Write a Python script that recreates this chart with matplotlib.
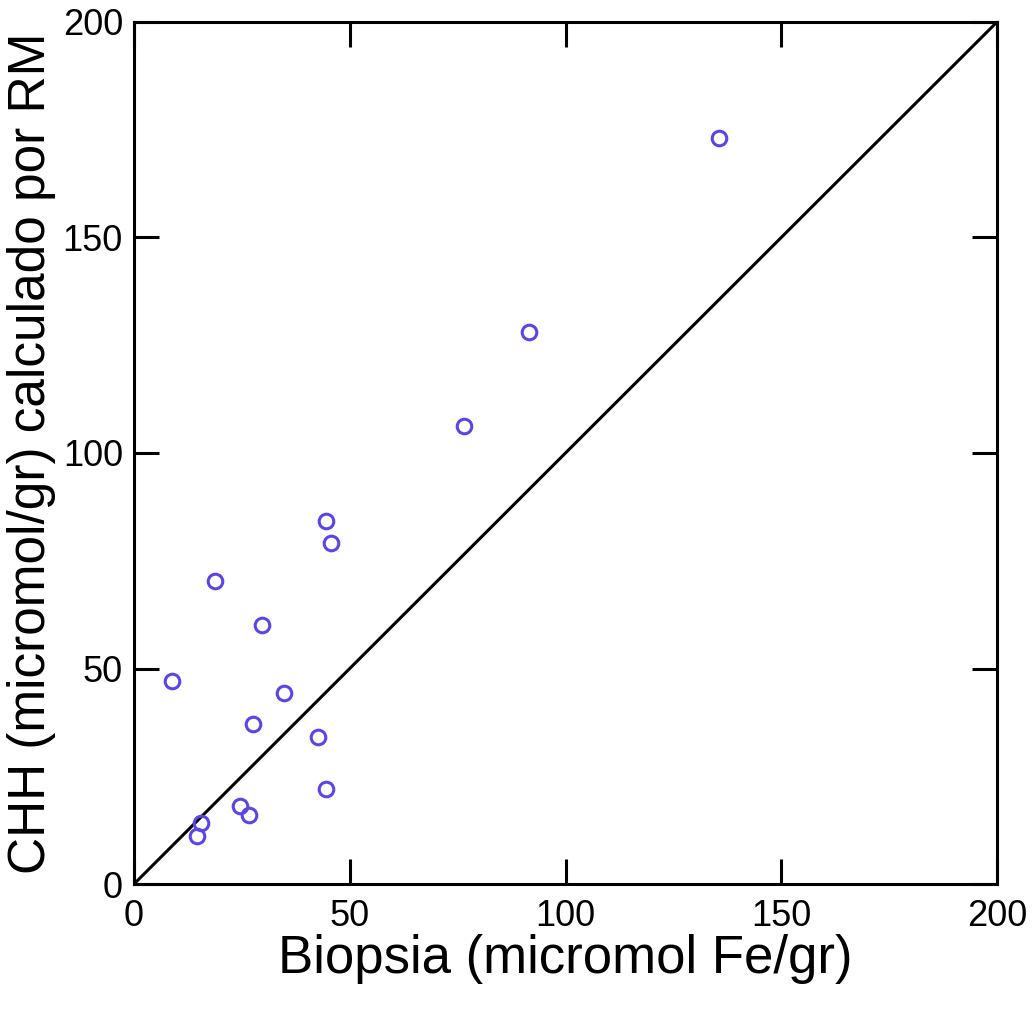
import matplotlib
matplotlib.use("Agg")
import matplotlib.pyplot as plt
import numpy as np

plt.rcParams['font.family'] = ['Liberation Sans', 'DejaVu Sans']

# biopsy vs MRI-estimated hepatic iron
biopsia = [135.6, 91.5, 76.5, 44.5, 45.7, 18.8, 29.7, 8.8, 34.8, 27.6,
           42.6, 44.5, 24.6, 26.7, 15.5, 14.6]
chh_rm = [173.1, 128.1, 106.3, 84.2, 79.1, 70.3, 60.1, 47.1, 44.3, 37.1,
          34.1, 22.0, 18.1, 16.0, 14.2, 11.1]
ticks = [0, 50, 100, 150, 200]
identity = [0, 200]

fig = plt.figure(figsize=(10.33, 10.09), dpi=100)
ax = fig.add_axes([134 / 1033, 1 - 884 / 1009, (997 - 134) / 1033, (884 - 22) / 1009])

ax.plot(identity, identity, color='black', lw=2.2, zorder=2)
ax.plot(biopsia, chh_rm, 'o', mfc='none', mec='#5a46e6', ms=10.5, mew=2.2,
        zorder=3, clip_on=False)

ax.set_xlim(0, 200)
ax.set_ylim(0, 200)
ax.set_xticks(ticks)
ax.set_yticks(ticks)
ax.tick_params(direction='in', length=18, width=2.2, labelsize=26,
               top=True, right=True, pad=8)
ax.tick_params(axis='x', pad=11)
for s in ax.spines.values():
    s.set_linewidth(2.2)

ax.set_xlabel('Biopsia (micromol Fe/gr)', fontsize=38, labelpad=0)
ax.set_ylabel('CHH (micromol/gr) calculado por RM', fontsize=37)
ax.yaxis.set_label_coords(-0.09, 0.5)

fig.savefig('out.png', dpi=100)
